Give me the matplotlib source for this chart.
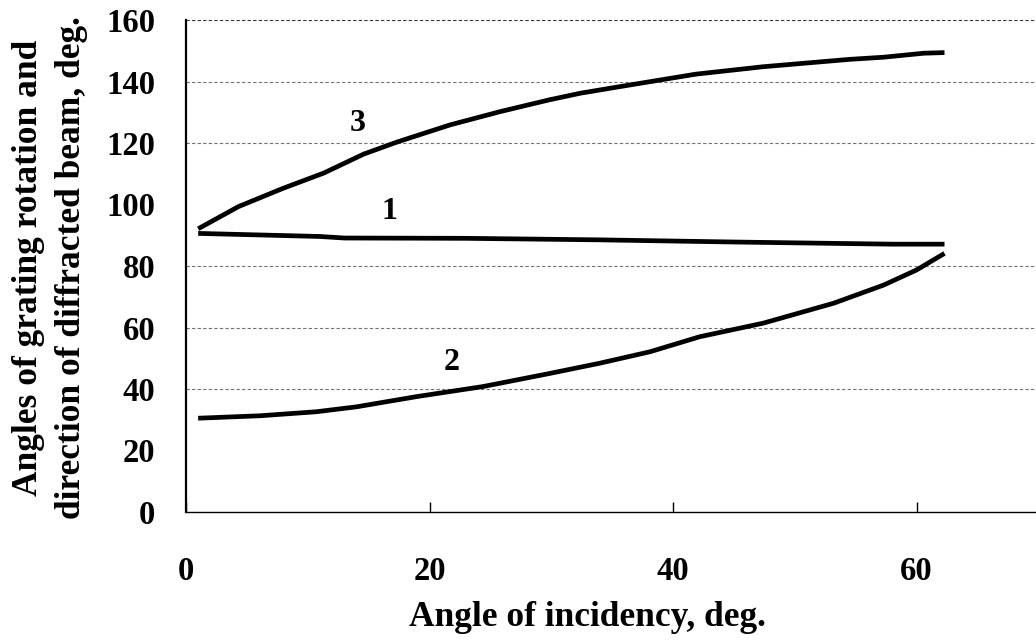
import matplotlib
matplotlib.use('Agg')
import matplotlib.pyplot as plt

# curve 1
x1 = [1, 11, 13, 23, 34, 45, 58, 62.3]
y1 = [90.6, 89.6, 89.1, 89.0, 88.5, 87.8, 87.1, 87.1]

# curve 2
x2 = [1.0, 6.1, 10.7, 14.0, 18.9, 24.4, 29.8, 34.0, 38.1, 42.2, 47.4, 53.2, 57.3, 60.0, 62.3]
y2 = [30.5, 31.3, 32.6, 34.2, 37.5, 40.8, 45.0, 48.4, 52.1, 57.0, 61.4, 67.9, 73.8, 78.7, 84.1]

# curve 3
x3 = [1.0, 4.3, 8.0, 11.3, 14.6, 17.4, 21.7, 25.8, 29.8, 32.4, 36.5, 41.9, 47.4, 54.5, 57.3, 60.6, 62.3]
y3 = [92.1, 99.3, 105.3, 110.2, 116.4, 120.4, 125.9, 130.2, 134.0, 136.2, 138.9, 142.4, 144.8, 147.2, 147.9, 149.2, 149.4]

# curve numbers
lbl_text = ['3', '1', '2']
lbl_x = [14.1, 16.7, 21.8]
lbl_y = [126.5, 97.6, 48.5]

xticks = [0, 20, 40, 60]
yticks = [0, 20, 40, 60, 80, 100, 120, 140, 160]
grid_y = [40, 60, 80, 120, 140, 160]

plt.rcParams['font.family'] = ['Liberation Serif', 'DejaVu Serif']
plt.rcParams['font.weight'] = 'bold'

fig = plt.figure(figsize=(10.36, 6.4), dpi=100)
ax = fig.add_axes([186 / 1036, 128 / 640, 850 / 1036, 492 / 640])

# сетка
for g in grid_y:
    ax.axhline(g, color='0.45' if g != 160 else '0.2', lw=0.8, dashes=(3, 2), zorder=1)

for xs, ys in [(x1, y1), (x2, y2), (x3, y3)]:
    ax.plot(xs, ys, color='black', lw=3.4, solid_capstyle='butt', zorder=3)

for t, tx, ty in zip(lbl_text, lbl_x, lbl_y):
    ax.text(tx, ty, t, fontsize=23, fontweight='bold', ha='center', va='center')

ax.set_xlim(0, 850 / 12.175)
ax.set_ylim(0, 160)
ax.set_xticks(xticks)
ax.set_yticks(yticks)
ax.tick_params(axis='x', direction='in', length=7, width=1, pad=32, labelsize=23.5)
ax.tick_params(axis='y', length=0, pad=22, labelsize=23.5)
for lab in ax.get_xticklabels() + ax.get_yticklabels():
    lab.set_fontweight('bold')

ax.spines['top'].set_visible(False)
ax.spines['right'].set_visible(False)
ax.spines['left'].set_linewidth(1.6)
ax.spines['bottom'].set_linewidth(1.0)

fig.text(587 / 1036, 1 - 617 / 640, 'Angle of incidency, deg.', fontsize=25.5,
         fontweight='bold', ha='center', va='center')
fig.text(50 / 1036, 1 - 268 / 640,
         'Angles of grating rotation and\ndirection of diffracted beam, deg.',
         fontsize=25.5, fontweight='bold', rotation=90, ha='center', va='center',
         multialignment='center', linespacing=1.42)

fig.savefig('out.png', dpi=100)
